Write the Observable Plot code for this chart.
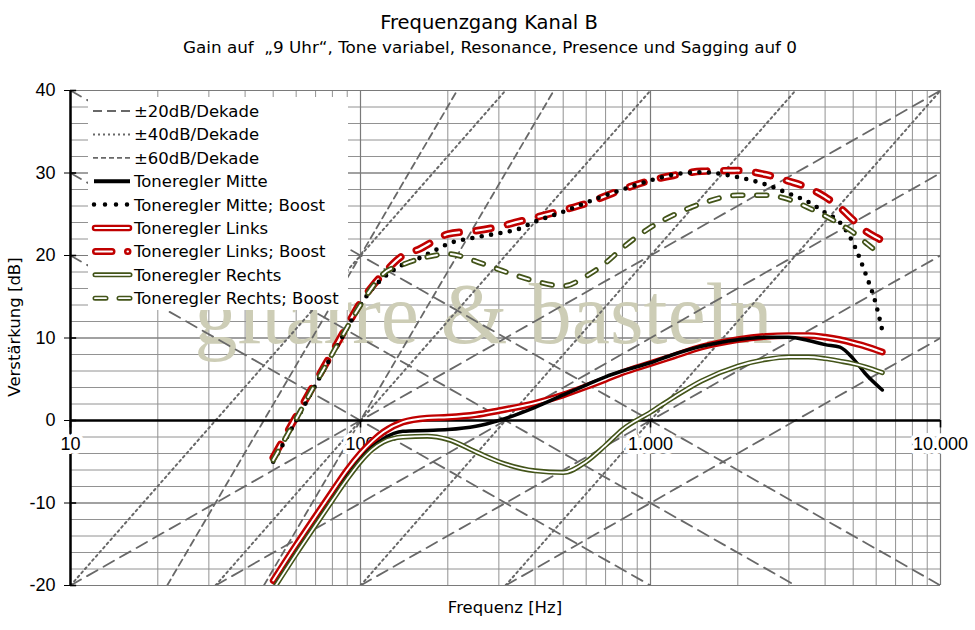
<!DOCTYPE html>
<html>
<head>
<meta charset="utf-8">
<script src="https://cdn.jsdelivr.net/npm/d3@7"></script>
<script src="https://cdn.jsdelivr.net/npm/@observablehq/plot@0.6"></script>
<style>
  body { margin: 0; background: #fff; }
</style>
</head>
<body>
<div id="chart"></div>
<script>
// ---------- data ----------
const freqMain = [50, 60, 70, 80, 90, 100, 110, 120, 140, 170, 200, 250, 300, 400, 500, 600, 700, 800, 1000, 1200, 1500, 2000, 2500, 3000, 3500, 4000, 4500, 5000, 5500, 6300];
const mitte  = [-20.4, -16.0, -12.5, -9.5, -6.8, -4.7, -3.2, -2.2, -1.3, -1.2, -1.1, -0.7, 0.0, 1.6, 3.1, 4.3, 5.3, 6.0, 7.0, 8.0, 9.0, 9.8, 10.1, 10.1, 9.7, 9.2, 8.9, 7.5, 5.7, 3.7];
const links  = [-19.4, -15.1, -11.6, -8.6, -6.0, -4.0, -2.5, -1.4, -0.2, 0.3, 0.4, 0.7, 1.2, 2.1, 3.1, 4.1, 5.0, 5.8, 6.9, 7.8, 8.9, 9.8, 10.2, 10.3, 10.3, 10.1, 9.8, 9.4, 9.0, 8.3];
const rechts = [-20.5, -16.2, -12.7, -9.7, -7.1, -5.0, -3.5, -2.6, -2.0, -1.9, -2.3, -3.8, -5.0, -6.1, -6.3, -5.0, -3.0, -1.1, 1.0, 2.8, 4.8, 6.6, 7.4, 7.7, 7.7, 7.5, 7.2, 6.9, 6.5, 5.8];

const freqBoost = [50, 60, 70, 80, 90, 100, 110, 120, 140, 160, 180, 200, 250, 300, 350, 400, 500, 600, 700, 800, 1000, 1200, 1500, 2000, 2500, 3000, 3500, 4000, 4500, 5000, 5500, 6000, 6300];
const mitteBoost  = [-5.0, 0.0, 4.3, 8.0, 11.2, 14.0, 16.0, 17.3, 18.9, 19.7, 20.6, 21.4, 22.2, 22.7, 23.2, 24.1, 25.3, 26.4, 27.3, 28.0, 29.1, 29.8, 30.1, 29.5, 28.6, 27.5, 26.5, 25.2, 24.0, 21.5, 17.9, 14.0, 10.9];
const linksBoost  = [-4.5, 0.5, 4.7, 8.3, 11.5, 14.3, 16.3, 17.8, 20.0, 20.8, 21.8, 22.6, 23.0, 23.5, 24.1, 24.6, 25.5, 26.3, 27.2, 28.0, 29.1, 29.7, 30.2, 30.3, 29.8, 29.0, 28.2, 27.1, 25.8, 24.3, 23.0, 22.2, 21.8];
const rechtsBoost = [-4.8, 0.2, 4.5, 8.1, 11.3, 14.0, 16.2, 17.8, 18.9, 19.6, 20.0, 20.2, 19.3, 18.3, 17.5, 16.9, 16.3, 17.5, 19.1, 20.9, 23.4, 24.9, 26.3, 27.3, 27.3, 26.8, 25.8, 24.8, 23.8, 22.8, 21.6, 20.5, 19.8];

// asymptote helper lines: endpoints [frequency, dB]
const ref20 = [
  [[10, -20], [10000, 40]],
  [[31.62, -20], [10000, 30]],
  [[100, -20], [10000, 20]],
  [[316.2, -20], [10000, 10]],
  [[10, 20], [1000, -20]],
  [[10, 30], [3162, -20]],
  [[10, 40], [10000, -20]]
];
const ref40 = [
  [[10, -20], [316.2, 40]],
  [[31.62, -20], [1000, 40]],
  [[100, -20], [3162, 40]],
  [[316.2, -20], [10000, 40]]
];
const ref60 = [
  [[21.54, -20], [215.4, 40]],
  [[46.42, -20], [464.2, 40]]
];

const xTicks = [10, 100, 1000, 10000];
const xTickLabels = ["10", "100", "1.000", "10.000"];
const yTicks = [-20, -10, 0, 10, 20, 30, 40];

const titleText = "Frequenzgang Kanal B";
const subtitleText = "Gain auf  \u201E9 Uhr\u201C, Tone variabel, Resonance, Presence und Sagging auf 0";
const xLabel = "Frequenz [Hz]";
const yLabel = "Verstärkung [dB]";
const watermark = "gitarre & basteln";
const legendLabels = ["±20dB/Dekade", "±40dB/Dekade", "±60dB/Dekade", "Toneregler Mitte", "Toneregler Mitte; Boost", "Toneregler Links", "Toneregler Links; Boost", "Toneregler Rechts", "Toneregler Rechts; Boost"];

// ---------- build tables ----------
const rows = (fs, vs) => fs.map((f, i) => ({f, v: vs[i]}));
const refRows = (segs) => segs.flatMap((seg, i) => seg.map(([f, v]) => ({f, v, id: i})));

const gridXMinor = [];
for (let d = 10; d < 10000; d *= 10) for (let k = 1; k <= 9; k++) gridXMinor.push(d * k);
gridXMinor.push(10000);
const gridYMinor = d3.range(-20, 41, 2);

const RED = "#c00000";
const OLIVE = "#435419";
const REFC = "#686868";
const SANS = "'DejaVu Sans', Verdana, sans-serif";

const dMitte = rows(freqMain, mitte);
const dLinks = rows(freqMain, links);
const dRechts = rows(freqMain, rechts);
const dMitteB = rows(freqBoost, mitteBoost);
const dLinksB = rows(freqBoost, linksBoost);
const dRechtsB = rows(freqBoost, rechtsBoost);

const curve = "monotone-x";

const plot = Plot.plot({
  width: 975,
  height: 630,
  marginLeft: 70,
  marginRight: 35,
  marginTop: 90,
  marginBottom: 45,
  style: {fontFamily: "'Liberation Sans', Arial, sans-serif", fontSize: "18px", background: "white", color: "black", overflow: "visible"},
  x: {type: "log", domain: [10, 10000], axis: null},
  y: {domain: [-20, 40], ticks: yTicks, tickSize: 6, tickPadding: 9, tickFormat: d => String(d), label: null},
  marks: [
    // grid
    Plot.ruleX(gridXMinor, {stroke: "#929292", strokeWidth: 1}),
    Plot.ruleY(gridYMinor, {stroke: "#929292", strokeWidth: 1}),
    Plot.ruleX(xTicks, {stroke: "#7a7a7a", strokeWidth: 1.2}),
    Plot.ruleY([-20, -10, 10, 20, 30, 40], {stroke: "#7a7a7a", strokeWidth: 1.2}),
    // watermark
    Plot.text([watermark], {frameAnchor: "middle", text: d => d, dx: -22, dy: 5, lineAnchor: "bottom", fontSize: 86, fontFamily: "'Liberation Serif', 'Times New Roman', serif", fill: "#cdcdb6"}),
    // helper lines
    Plot.line(refRows(ref20), {x: "f", y: "v", z: "id", stroke: REFC, strokeWidth: 1.8, strokeDasharray: "12,7", clip: true}),
    Plot.line(refRows(ref40), {x: "f", y: "v", z: "id", stroke: REFC, strokeWidth: 2, strokeDasharray: "2,3.5", clip: true}),
    Plot.line(refRows(ref60), {x: "f", y: "v", z: "id", stroke: REFC, strokeWidth: 1.8, strokeDasharray: "7,4.5", clip: true}),
    // axes lines
    Plot.ruleY([0], {stroke: "black", strokeWidth: 2.5}),
    Plot.ruleX([10], {stroke: "black", strokeWidth: 2.5}),
    Plot.ruleX(xTicks, {y1: 0, y2: -0.9, stroke: "black", strokeWidth: 1.6}),
    Plot.ruleY(yTicks, {x1: 10, x2: 10.5, stroke: "black", strokeWidth: 1.6}),
    Plot.text(xTicks, {x: d => d, y: 0, text: (d, i) => xTickLabels[i], dy: 24, fill: "black", stroke: "white", strokeWidth: 8, fontSize: 18}),
    // Links
    Plot.line(dLinks, {x: "f", y: "v", curve, stroke: RED, strokeWidth: 6.8, clip: true}),
    Plot.line(dLinks, {x: "f", y: "v", curve, stroke: "white", strokeWidth: 1.9, clip: true}),
    // Links Boost
    Plot.line(dLinksB, {x: "f", y: "v", curve, stroke: RED, strokeWidth: 7.5, strokeDasharray: "15,17", strokeLinecap: "round", clip: true}),
    Plot.line(dLinksB, {x: "f", y: "v", curve, stroke: "white", strokeWidth: 2.2, strokeDasharray: "15,17", strokeLinecap: "round", clip: true}),
    // Mitte
    Plot.line(dMitte, {x: "f", y: "v", curve, stroke: "black", strokeWidth: 3.5, clip: true}),
    // Mitte Boost
    Plot.line(dMitteB, {x: "f", y: "v", curve, stroke: "black", strokeWidth: 4.6, strokeDasharray: "0,9.5", strokeLinecap: "round", clip: true}),
    // Rechts
    Plot.line(dRechts, {x: "f", y: "v", curve, stroke: OLIVE, strokeWidth: 5, clip: true}),
    Plot.line(dRechts, {x: "f", y: "v", curve, stroke: "white", strokeWidth: 1.8, clip: true}),
    // Rechts Boost
    Plot.line(dRechtsB, {x: "f", y: "v", curve, stroke: OLIVE, strokeWidth: 5.5, strokeDasharray: "10,14", strokeLinecap: "round", clip: true}),
    Plot.line(dRechtsB, {x: "f", y: "v", curve, stroke: "white", strokeWidth: 2, strokeDasharray: "10,14", strokeLinecap: "round", clip: true})
  ]
});

document.getElementById("chart").appendChild(plot);

// ---------- titles, axis labels, legend ----------
const svg = d3.select(plot);
svg.append("text").attr("x", 489).attr("y", 29).attr("text-anchor", "middle")
  .style("font-family", SANS).style("font-size", "19.5px").style("fill", "black").text(titleText);
svg.append("text").attr("x", 490).attr("y", 53).attr("text-anchor", "middle")
  .style("font-family", SANS).style("font-size", "15px").style("fill", "black")
  .attr("textLength", 614).attr("lengthAdjust", "spacingAndGlyphs").text(subtitleText);
svg.append("text").attr("x", 505).attr("y", 613).attr("text-anchor", "middle")
  .style("font-family", SANS).style("font-size", "16.5px").style("fill", "black").text(xLabel);
svg.append("text").attr("transform", "translate(20,327) rotate(-90)").attr("text-anchor", "middle")
  .style("font-family", SANS).style("font-size", "16.5px").style("fill", "black").text(yLabel);

const ns = "http://www.w3.org/2000/svg";
const lgNode = document.createElementNS(ns, "g");
plot.appendChild(lgNode);
const lg = d3.select(lgNode);
const bg = document.createElementNS(ns, "rect");
bg.setAttribute("x", "88");
bg.setAttribute("y", "97");
bg.setAttribute("width", "260");
bg.setAttribute("height", "213");
bg.setAttribute("fill", "#ffffff");
bg.setAttribute("style", "fill:#ffffff;stroke:none");
lgNode.appendChild(bg);

const rowY = i => 111 + i * 23.4;
const seg = (i, x1, x2, attrs) => {
  const l = lg.append("line").attr("x1", x1).attr("x2", x2).attr("y1", rowY(i)).attr("y2", rowY(i)).style("fill", "none");
  for (const [k, v] of Object.entries(attrs)) l.style(k, v);
};
seg(0, 93, 131, {stroke: REFC, "stroke-width": 1.8, "stroke-dasharray": "9,5"});
seg(1, 93, 131, {stroke: REFC, "stroke-width": 2, "stroke-dasharray": "2,3"});
seg(2, 93, 131, {stroke: REFC, "stroke-width": 1.8, "stroke-dasharray": "5,3"});
seg(3, 94, 130, {stroke: "black", "stroke-width": 4});
seg(4, 94, 128, {stroke: "black", "stroke-width": 4.5, "stroke-dasharray": "0,11", "stroke-linecap": "round"});
seg(5, 95, 129, {stroke: RED, "stroke-width": 6.5, "stroke-linecap": "round"});
seg(5, 95, 129, {stroke: "white", "stroke-width": 1.8, "stroke-linecap": "round"});
seg(6, 95.5, 128, {stroke: RED, "stroke-width": 7, "stroke-dasharray": "16.5,15.5", "stroke-linecap": "round"});
seg(6, 95.5, 128, {stroke: "white", "stroke-width": 2, "stroke-dasharray": "16.5,15.5", "stroke-linecap": "round"});
seg(7, 95, 130, {stroke: OLIVE, "stroke-width": 5, "stroke-linecap": "round"});
seg(7, 95, 130, {stroke: "white", "stroke-width": 1.8, "stroke-linecap": "round"});
seg(8, 95, 130, {stroke: OLIVE, "stroke-width": 5, "stroke-dasharray": "11,13", "stroke-linecap": "round"});
seg(8, 95, 130, {stroke: "white", "stroke-width": 1.8, "stroke-dasharray": "11,13", "stroke-linecap": "round"});
legendLabels.forEach((t, i) => {
  lg.append("text").attr("x", 134).attr("y", rowY(i)).attr("dy", "0.36em")
    .attr("text-anchor", "start").style("text-anchor", "start")
    .style("font-family", SANS).style("font-size", "16.5px").style("fill", "black").text(t);
});
</script>
</body>
</html>
